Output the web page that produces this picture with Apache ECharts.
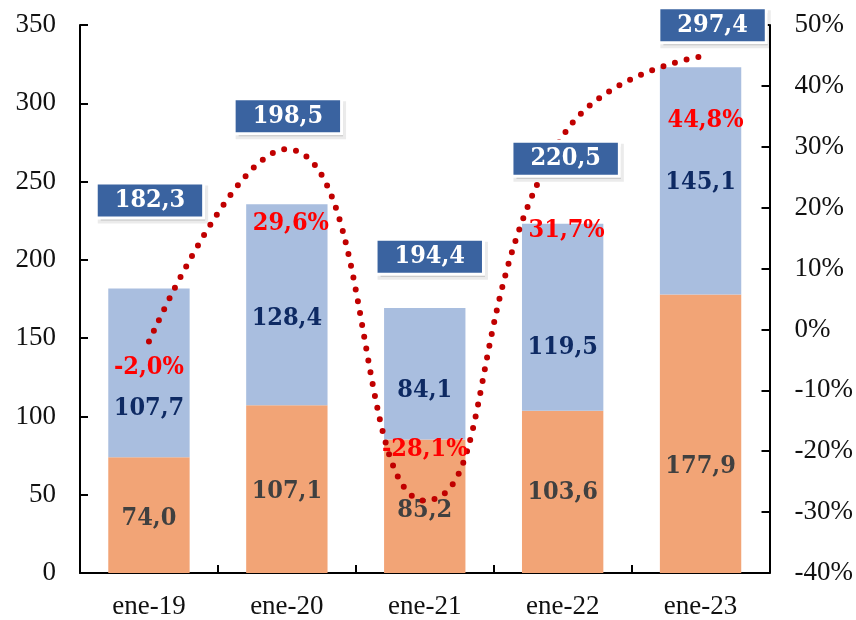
<!DOCTYPE html>
<html>
<head>
<meta charset="utf-8">
<script src="https://cdn.jsdelivr.net/npm/echarts@6/dist/echarts.min.js"></script>
<style>
  html, body { margin: 0; padding: 0; background: #fff; }
  #chart { width: 856px; height: 620px; }
</style>
</head>
<body>
<div id="chart"></div>
<script>
// Periods on the x axis
const categories = ['ene-19', 'ene-20', 'ene-21', 'ene-22', 'ene-23'];
// Lower (orange) and upper (blue) stacked components
const lowerValues = [74.0, 107.1, 85.2, 103.6, 177.9];
const upperValues = [107.7, 128.4, 84.1, 119.5, 145.1];
// Year-on-year change, right axis (%)
const growthValues = [-2.0, 29.6, -28.1, 31.7, 44.8];
// Figures shown in the blue callout boxes
const boxValues = [182.3, 198.5, 194.4, 220.5, 297.4];

// Left / right axis ranges
const leftAxis = { min: 0, max: 350, interval: 50 };
const rightAxis = { min: -40, max: 50, interval: 10 };

const FONT = '"Liberation Serif", "Times New Roman", serif';
const BOLD_FONT = '"DejaVu Serif Condensed", "Liberation Serif", serif';
const fmt = v => v.toFixed(1).replace('.', ',');

// Label nudges (pixels) for readability
const lowerOffsets = [[0, 3], [0, 2], [0, 4], [0, 1], [0, 33]];
const upperOffsets = [[0, 36], [0, 14], [0, 17], [0, 30], [0, 2]];
const growthOffsets = [[0, 26], [4, 74], [0, -51], [4, 94], [5, 64]];
const boxOffsets = [[1, -87], [1, -146], [5, -12], [3, -69], [12, -82]];

const axisLine = { show: true, lineStyle: { color: '#000', width: 2 } };
const axisTick = { show: true, inside: true, length: 8, lineStyle: { color: '#000', width: 2 } };
const axisLabelStyle = { color: '#111', fontFamily: FONT, fontSize: 27 };
const valueLabel = {
  fontFamily: BOLD_FONT, fontWeight: 'bold', fontSize: 25,
  textBorderWidth: 0, textShadowBlur: 0
};

// Callout box geometry shared by the box and its drop shadow
const boxLabel = {
  show: true, position: 'inside',
  lineHeight: 28, padding: [2, 17, 2, 17], borderWidth: 3,
  formatter: p => fmt(p.value[1])
};

const boxSeries = (name, extra, shift, z) => ({
  name: name,
  type: 'scatter',
  yAxisIndex: 0,
  symbolSize: 0,
  silent: true,
  itemStyle: { opacity: 1 },
  data: boxValues.map((v, i) => ({
    value: [categories[i], v],
    label: { offset: [boxOffsets[i][0] + shift[0], boxOffsets[i][1] + shift[1]] }
  })),
  label: Object.assign({}, valueLabel, boxLabel, extra),
  z: z
});

const chart = echarts.init(document.getElementById('chart'), null, { renderer: 'canvas' });

chart.setOption({
  animation: false,
  backgroundColor: '#fff',
  grid: { left: 80, right: 86, top: 25, bottom: 45, containLabel: false },
  xAxis: {
    type: 'category',
    data: categories,
    axisLine: axisLine,
    axisTick: axisTick,
    axisLabel: Object.assign({ margin: 20 }, axisLabelStyle)
  },
  yAxis: [
    {
      type: 'value',
      min: leftAxis.min, max: leftAxis.max, interval: leftAxis.interval,
      axisLine: axisLine,
      axisTick: axisTick,
      splitLine: { show: false },
      axisLabel: Object.assign({ margin: 24 }, axisLabelStyle)
    },
    {
      type: 'value',
      position: 'right',
      min: rightAxis.min, max: rightAxis.max, interval: rightAxis.interval,
      axisLine: axisLine,
      axisTick: axisTick,
      splitLine: { show: false },
      axisLabel: Object.assign({ margin: 25, formatter: v => v + '%' }, axisLabelStyle)
    }
  ],
  series: [
    {
      name: 'lower',
      type: 'bar',
      stack: 'total',
      barWidth: '59%',
      itemStyle: { color: '#F2A476' },
      data: lowerValues.map((v, i) => ({ value: v, label: { offset: lowerOffsets[i] } })),
      label: Object.assign({
        show: true, position: 'inside', color: '#404040',
        formatter: p => fmt(p.value)
      }, valueLabel),
      z: 2
    },
    {
      name: 'upper',
      type: 'bar',
      stack: 'total',
      barWidth: '59%',
      itemStyle: { color: '#A9BEDF' },
      data: upperValues.map((v, i) => ({ value: v, label: { offset: upperOffsets[i] } })),
      label: Object.assign({
        show: true, position: 'inside', color: '#0E2A63',
        formatter: p => fmt(p.value)
      }, valueLabel),
      z: 2
    },
    {
      name: 'growth',
      type: 'line',
      yAxisIndex: 1,
      smooth: 0.5,
      symbol: 'circle',
      symbolSize: 1,
      showSymbol: true,
      itemStyle: { color: 'rgba(0,0,0,0)' },
      lineStyle: { color: '#C00000', width: 6, type: [0, 12], cap: 'round' },
      data: growthValues.map((v, i) => ({ value: v, label: { offset: growthOffsets[i] } })),
      label: Object.assign({
        show: true, position: 'inside', color: '#FF0000',
        formatter: p => fmt(p.value) + '%'
      }, valueLabel),
      z: 4
    },
    // soft drop shadow behind each callout
    boxSeries('boxShadow', {
      color: 'rgba(0,0,0,0)',
      backgroundColor: 'rgba(0,0,0,0.18)',
      borderColor: 'rgba(0,0,0,0.08)'
    }, [3, 4], 5),
    boxSeries('box', {
      color: '#fff',
      backgroundColor: '#3A63A0',
      borderColor: '#fff'
    }, [0, 0], 6)
  ]
});
</script>
</body>
</html>
